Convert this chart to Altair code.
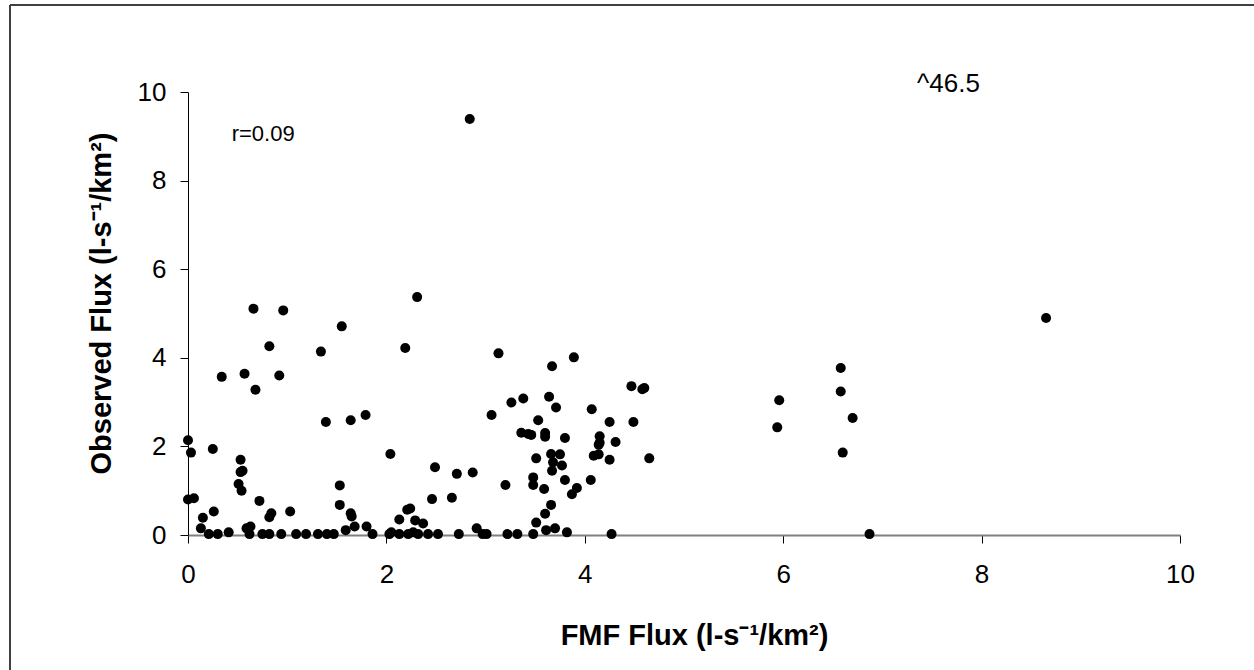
import altair as alt
import pandas as pd

# FMF flux (x) and observed flux (y)
fmf_flux = [
    0.00, 0.03, 0.00, 0.06, 0.25, 0.34, 0.15, 0.26, 0.13, 0.21, 0.30, 0.41,
    0.66, 0.96, 0.82, 0.57, 0.92, 0.68, 0.53, 0.55, 0.53, 0.51, 0.54, 0.72,
    0.84, 0.82, 1.03, 0.59, 0.63,
    0.62, 0.75, 0.82, 0.94, 1.09, 1.19, 1.31, 1.40, 1.47,
    1.34, 1.55, 1.39, 1.64, 1.79, 1.53, 1.53, 1.64, 1.65, 1.59, 1.68, 1.80, 1.86,
    2.31, 2.19, 2.04, 2.49, 2.71, 2.46, 2.66, 2.13, 2.21, 2.24, 2.29, 2.37,
    2.03, 2.05, 2.13, 2.22, 2.27, 2.32, 2.42, 2.52, 2.73,
    3.13, 3.89, 3.67, 4.47, 4.60, 4.58, 3.64, 3.38, 3.26, 3.71, 4.07, 3.06,
    3.53, 4.25, 4.49, 3.36, 3.43, 3.46, 3.60, 3.60, 3.80, 4.15, 4.14, 4.15,
    4.31, 4.09, 4.14, 4.25, 4.65, 3.51, 3.66, 3.75, 3.68, 3.77, 3.67, 2.87,
    3.20, 3.48, 3.48, 3.59, 3.80, 4.06, 3.92, 3.87, 3.66, 3.60, 3.51, 2.91,
    3.61, 3.70,
    2.97, 3.01, 3.22, 3.32, 3.48, 3.82, 4.27,
    6.58, 6.58, 5.96, 5.94, 6.70, 6.60, 6.87,
    2.84, 8.65,
]
observed_flux = [
    2.14, 1.86, 0.80, 0.83, 1.94, 3.57, 0.39, 0.53, 0.15, 0.02, 0.02, 0.06,
    5.11, 5.07, 4.26, 3.64, 3.60, 3.28, 1.70, 1.45, 1.42, 1.15, 1.00, 0.77,
    0.49, 0.40, 0.53, 0.15, 0.19,
    0.02, 0.02, 0.02, 0.02, 0.02, 0.02, 0.02, 0.02, 0.02,
    4.14, 4.71, 2.55, 2.59, 2.71, 1.12, 0.68, 0.49, 0.42, 0.11, 0.19, 0.19, 0.02,
    5.37, 4.22, 1.83, 1.53, 1.38, 0.81, 0.84, 0.35, 0.57, 0.60, 0.33, 0.26,
    0.02, 0.06, 0.02, 0.02, 0.06, 0.02, 0.02, 0.02, 0.02,
    4.10, 4.01, 3.81, 3.36, 3.32, 3.29, 3.12, 3.08, 2.99, 2.88, 2.84, 2.71,
    2.59, 2.55, 2.55, 2.31, 2.28, 2.26, 2.30, 2.22, 2.19, 2.23, 2.04, 2.08,
    2.10, 1.79, 1.82, 1.70, 1.73, 1.73, 1.83, 1.82, 1.64, 1.57, 1.45, 1.41,
    1.13, 1.30, 1.13, 1.04, 1.24, 1.24, 1.06, 0.92, 0.68, 0.48, 0.28, 0.15,
    0.11, 0.15,
    0.02, 0.02, 0.02, 0.02, 0.02, 0.06, 0.02,
    3.77, 3.24, 3.04, 2.43, 2.64, 1.86, 0.02,
    9.39, 4.90,
]

tick_values = [0, 2, 4, 6, 8, 10]
x_title = "FMF Flux (l-s\u207b\u00b9/km\u00b2)"
y_title = "Observed Flux (l-s\u207b\u00b9/km\u00b2)"

note_r = ["r=0.09"]
note_r_x = [0.44]
note_r_y = [8.89]
note_max = ["^46.5"]
note_max_x = [7.35]
note_max_y = [10.0]

df = pd.DataFrame({"fmf": fmf_flux, "obs": observed_flux})
df_r = pd.DataFrame({"x": note_r_x, "y": note_r_y, "t": note_r})
df_m = pd.DataFrame({"x": note_max_x, "y": note_max_y, "t": note_max})
one = pd.DataFrame({"a": [0]})

xscale = alt.Scale(domain=[0, 10], nice=False)
yscale = alt.Scale(domain=[0, 10], nice=False)

points = alt.Chart(df).mark_circle(size=100, color="black", opacity=1).encode(
    x=alt.X("fmf:Q", scale=xscale, axis=alt.Axis(
        values=tick_values, format="d", grid=False, title=x_title,
        domainColor="#808080", domainWidth=2, tickColor="black", tickSize=8,
        labelFontSize=26, labelColor="black", labelPadding=18, labelFlush=False,
        titleFontSize=29, titleFontWeight="bold", titleColor="black",
        titleX=506, titleY=109, titleBaseline="alphabetic", titleAlign="center")),
    y=alt.Y("obs:Q", scale=yscale, axis=alt.Axis(
        values=tick_values, format="d", grid=False, title=y_title,
        domainColor="black", domainWidth=1, tickColor="black", tickSize=8,
        labelFontSize=26, labelColor="black", labelPadding=14, labelFlush=False,
        titleFontSize=29, titleFontWeight="bold", titleColor="black",
        titleX=-78, titleY=211, titleBaseline="alphabetic", titleAlign="center",
        titleAngle=270)),
)

text_r = alt.Chart(df_r).mark_text(align="left", baseline="alphabetic", fontSize=22,
                                    color="black").encode(
    x=alt.X("x:Q", scale=xscale), y=alt.Y("y:Q", scale=yscale), text="t:N")
text_m = alt.Chart(df_m).mark_text(align="left", baseline="alphabetic", fontSize=26,
                                    color="black").encode(
    x=alt.X("x:Q", scale=xscale), y=alt.Y("y:Q", scale=yscale), text="t:N")

frame_left = alt.Chart(one).mark_rule(color="#404040", strokeWidth=2).encode(
    x=alt.value(-178), y=alt.value(-87), y2=alt.value(620))
frame_top = alt.Chart(one).mark_rule(color="#404040", strokeWidth=2).encode(
    x=alt.value(-178), x2=alt.value(1100), y=alt.value(-87))

chart = alt.layer(frame_left, frame_top, points, text_r, text_m).properties(
    width=992, height=443,
    autosize=alt.AutoSizeParams(type="none"),
    padding={"left": 188, "top": 92, "right": 74, "bottom": 135},
    background="white",
).configure(font="Liberation Sans").configure_view(stroke=None)

chart.save("out.html", embed_options={"renderer": "svg", "actions": False})
